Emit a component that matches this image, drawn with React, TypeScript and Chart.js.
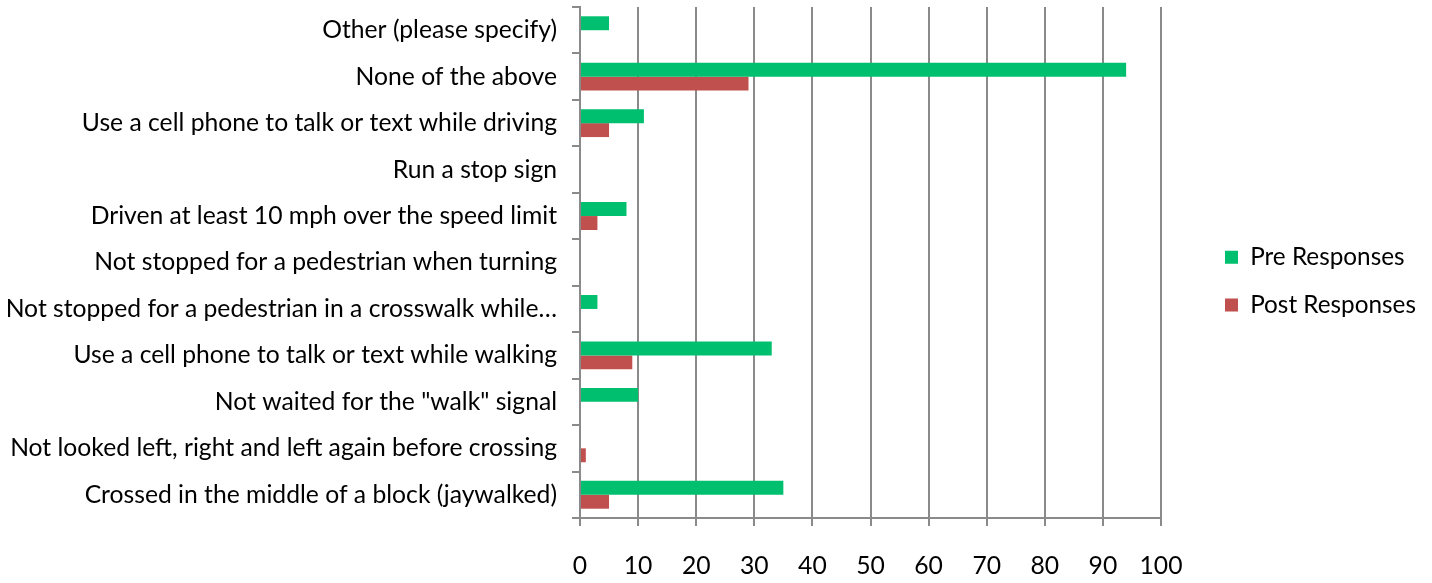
import React, { useEffect, useRef } from 'react';
import { Chart, registerables } from 'chart.js';

Chart.register(...registerables);

const categories = [
  'Other (please specify)',
  'None of the above',
  'Use a cell phone to talk or text while driving',
  'Run a stop sign',
  'Driven at least 10 mph over the speed limit',
  'Not stopped for a pedestrian when turning',
  'Not stopped for a pedestrian in a crosswalk while…',
  'Use a cell phone to talk or text while walking',
  'Not waited for the "walk" signal',
  'Not looked left, right and left again before crossing',
  'Crossed in the middle of a block (jaywalked)',
];

const preResponses = [5, 94, 11, 0, 8, 0, 3, 33, 10, 0, 35];
const postResponses = [0, 29, 5, 0, 3, 0, 0, 9, 0, 1, 5];

const seriesNames = ['Pre Responses', 'Post Responses'];
const seriesColors = ['#00BF6F', '#C0504D'];

const xMin = 0;
const xMax = 100;
const xStep = 10;

const FONT = 'Lato, "Open Sans", sans-serif';
const FONT_SIZE = 24.7;
const LEGEND_FONT_SIZE = 24.3;
const GRID = '#8a8a8a';

const W = 1432;
const H = 583;
const PLOT_LEFT = 580;
const PLOT_RIGHT = 1161;
const PLOT_BOTTOM = 518;
const LEGEND_BOX_X = 1225;
const LEGEND_Y = 245;

const legendPlacement = {
  id: 'legendPlacement',
  beforeLayout(chart: any) {
    const lg = chart.legend;
    if (lg && !lg._wrappedFit) {
      const orig = lg.fit.bind(lg);
      lg.fit = () => {
        orig();
        lg.width = W - PLOT_RIGHT;
      };
      lg._wrappedFit = true;
    }
  },
  afterLayout(chart: any) {
    const lg = chart.legend;
    if (!lg) return;
    const pad = lg.options.labels.padding;
    const w = lg.width;
    lg.left = LEGEND_BOX_X - pad;
    lg.right = lg.left + w;
    const colH = (lg.columnSizes && lg.columnSizes[0] && lg.columnSizes[0].height) || 0;
    lg.top = LEGEND_Y - pad - 40;
    lg.bottom = LEGEND_Y + colH + 40;
    lg.height = lg.bottom - lg.top;
  },
};

export default function App() {
  const ref = useRef<HTMLCanvasElement | null>(null);

  useEffect(() => {
    if (!ref.current) return;
    const chart = new Chart(ref.current, {
      type: 'bar',
      data: {
        labels: categories,
        datasets: [
          {
            label: seriesNames[0],
            data: preResponses,
            backgroundColor: seriesColors[0],
            borderWidth: 0,
            categoryPercentage: 0.6,
            barPercentage: 1.0,
          },
          {
            label: seriesNames[1],
            data: postResponses,
            backgroundColor: seriesColors[1],
            borderWidth: 0,
            categoryPercentage: 0.6,
            barPercentage: 1.0,
          },
        ],
      },
      options: {
        indexAxis: 'y',
        animation: false,
        responsive: true,
        maintainAspectRatio: false,
        layout: { padding: { top: 7, left: 0, right: 0, bottom: 0 } },
        plugins: {
          legend: {
            position: 'right',
            labels: {
              boxWidth: 13,
              boxHeight: 13,
              padding: 23.5,
              color: '#000',
              font: { family: FONT, size: LEGEND_FONT_SIZE },
            },
          },
          tooltip: { enabled: false },
        },
        scales: {
          x: {
            min: xMin,
            max: xMax,
            ticks: {
              stepSize: xStep,
              color: '#000',
              padding: 25,
              font: { family: FONT, size: FONT_SIZE },
            },
            grid: {
              color: GRID,
              lineWidth: 2,
              tickLength: 8,
              drawTicks: true,
            },
            border: { color: GRID, width: 2 },
            afterFit: (scale: any) => {
              scale.height = H - PLOT_BOTTOM;
              scale.paddingLeft = 0;
              scale.paddingRight = 0;
            },
          },
          y: {
            ticks: {
              color: '#000',
              padding: 15,
              autoSkip: false,
              font: { family: FONT, size: FONT_SIZE },
            },
            grid: {
              offset: true,
              drawOnChartArea: false,
              drawTicks: true,
              tickLength: 8,
              color: GRID,
              lineWidth: 2,
            },
            border: { color: GRID, width: 2 },
            afterFit: (scale: any) => {
              scale.width = PLOT_LEFT;
              scale.paddingTop = 0;
              scale.paddingBottom = 0;
            },
          },
        },
      },
      plugins: [legendPlacement],
    } as any);
    return () => chart.destroy();
  }, []);

  return (
    <div style={{ position: 'absolute', left: 0, top: 0, width: W, height: H, background: '#fff' }}>
      <canvas ref={ref} />
    </div>
  );
}
